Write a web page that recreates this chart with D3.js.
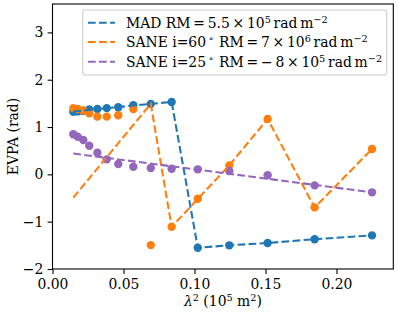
<!DOCTYPE html>
<html>
<head>
<meta charset="utf-8">
<script src="https://cdn.jsdelivr.net/npm/d3@7"></script>
<style>
  body { margin: 0; background: #fff; }
  svg { display: block; font-family: "DejaVu Serif", serif; }
</style>
</head>
<body>
<svg id="chart" width="398" height="317"></svg>
<script>
// measured points (lambda^2 in 1e5 m^2, EVPA in rad)
var lam2 = [0.01465, 0.01775, 0.0217, 0.0259, 0.0316, 0.0382, 0.0463, 0.0569, 0.0692, 0.0839, 0.1023, 0.1245, 0.1515, 0.1846, 0.225];
var madEvpa = [1.32, 1.33, 1.34, 1.37, 1.38, 1.40, 1.42, 1.46, 1.49, 1.53, -1.55, -1.50, -1.45, -1.37, -1.29];
var sane60Evpa = [1.40, 1.38, 1.35, 1.29, 1.22, 1.22, 1.25, 1.38, -1.495, -1.108, -0.516, 0.19, 1.169, -0.698, 0.535];
var sane25Evpa = [0.846, 0.795, 0.725, 0.605, 0.457, 0.317, 0.218, 0.161, 0.133, 0.118, 0.106, 0.07, -0.02, -0.233, -0.38];

// RM model lines
var fitLam2 = [0.01465, 0.0692, 0.0839, 0.1023, 0.1245, 0.1515, 0.1846, 0.225];
var madFit = [1.33, 1.49, 1.53, -1.55, -1.50, -1.45, -1.37, -1.29];
var sane60Fit = [-0.49, 1.49, -1.11, -0.52, 0.19, 1.17, -0.70, 0.535];
var sane25FitLam2 = [0.01465, 0.225];
var sane25Fit = [0.44, -0.38];

var xTicks = [0, 0.05, 0.10, 0.15, 0.20];
var yTicks = [-2, -1, 0, 1, 2, 3];

var colors = ['#1f77b4', '#ff7f0e', '#9467bd'];

function drawChart() {
    var svg = d3.select('#chart');
    var left = 52.5, right = 393.3, top = 4, bottom = 269;
    var x = d3.scaleLinear().domain([0, 0.24]).range([left, right]);
    var y = d3.scaleLinear().domain([-2, 3.6]).range([bottom, top]);

    var plot = svg.append('g');
    svg.append('clipPath').attr('id', 'clip')
        .append('rect').attr('x', left).attr('y', top)
        .attr('width', right - left).attr('height', bottom - top);
    plot.attr('clip-path', 'url(#clip)');

    // points
    var pointSets = [madEvpa, sane60Evpa, sane25Evpa];
    pointSets.forEach((vals, k) => {
        plot.append('g').selectAll('circle')
            .data(vals)
            .enter().append('circle')
            .attr('cx', (d, i) => x(lam2[i]))
            .attr('cy', d => y(d))
            .attr('r', 4.2)
            .attr('fill', colors[k]);
    });

    // dashed model lines
    var line = d3.line().x(d => x(d[0])).y(d => y(d[1]));
    var fits = [
        [fitLam2, madFit],
        [fitLam2, sane60Fit],
        [sane25FitLam2, sane25Fit]
    ];
    fits.forEach((f, k) => {
        plot.append('path')
            .datum(f[0].map((v, i) => [v, f[1][i]]))
            .attr('d', line)
            .attr('fill', 'none')
            .attr('stroke', colors[k])
            .attr('stroke-width', 2.08)
            .attr('stroke-dasharray', '7.7,3.33');
    });

    // axes
    var xAxis = svg.append('g')
        .attr('transform', 'translate(0,' + bottom + ')')
        .call(d3.axisBottom(x).tickValues(xTicks).tickFormat(d3.format('.2f'))
            .tickSize(4.9).tickSizeOuter(0).tickPadding(5));
    var yAxis = svg.append('g')
        .attr('transform', 'translate(' + left + ',0)')
        .call(d3.axisLeft(y).tickValues(yTicks).tickFormat(d => d < 0 ? '\u2212' + Math.abs(d) : d)
            .tickSize(4.9).tickSizeOuter(0).tickPadding(4.3));
    [xAxis, yAxis].forEach(a => {
        a.select('.domain').remove();
        a.selectAll('line').attr('stroke', '#000').attr('stroke-width', 1.1);
        a.selectAll('text').attr('fill', '#000')
            .style('font-family', '"DejaVu Serif"').style('font-size', '13.9px');
    });

    svg.append('rect')
        .attr('x', left).attr('y', top)
        .attr('width', right - left).attr('height', bottom - top)
        .attr('fill', 'none').attr('stroke', '#000').attr('stroke-width', 1.1);

    // axis labels
    var xl = svg.append('text')
        .attr('x', (left + right) / 2).attr('y', 306)
        .attr('text-anchor', 'middle').style('font-size', '13.9px');
    xl.append('tspan').style('font-style', 'italic').text('\u03bb');
    xl.append('tspan').attr('dy', -5).style('font-size', '9.7px').text('2');
    xl.append('tspan').attr('dy', 5).text(' (10');
    xl.append('tspan').attr('dy', -5).style('font-size', '9.7px').text('5');
    xl.append('tspan').attr('dy', 5).text(' m');
    xl.append('tspan').attr('dy', -5).style('font-size', '9.7px').text('2');
    xl.append('tspan').attr('dy', 5).text(')');

    svg.append('text')
        .attr('transform', 'translate(17.5,' + (top + bottom) / 2 + ') rotate(-90)')
        .attr('text-anchor', 'middle').style('font-size', '13.9px')
        .text('EVPA (rad)');

    // legend (thin spaces mimic mathtext spacing)
    var legend = svg.append('g');
    legend.append('rect')
        .attr('x', 82.7).attr('y', 10).attr('width', 304).attr('height', 65)
        .attr('rx', 2.8).attr('fill', '#fff').attr('fill-opacity', 0.8)
        .attr('stroke', '#cccccc').attr('stroke-width', 1.1);
    var ts = '\u2009';
    var labels = [
        ['MAD RM' + ts + '=' + ts + '5.5' + ts + '\u00d7' + ts + '10', '5', ts + 'rad' + ts + 'm', '\u22122'],
        ['SANE i=60' + ts, '\u2218', ts + ts + 'RM' + ts + '=' + ts + '7' + ts + '\u00d7' + ts + '10', '6', ts + 'rad' + ts + 'm', '\u22122'],
        ['SANE i=25' + ts, '\u2218', ts + ts + 'RM' + ts + '=' + ts + '\u2212' + ts + '8' + ts + '\u00d7' + ts + '10', '5', ts + 'rad' + ts + 'm', '\u22122']
    ];
    var rowY = [22.7, 42, 61.7];
    labels.forEach((parts, k) => {
        legend.append('line')
            .attr('x1', 88).attr('x2', 115)
            .attr('y1', rowY[k]).attr('y2', rowY[k])
            .attr('stroke', colors[k]).attr('stroke-width', 2.08)
            .attr('stroke-dasharray', '7.7,3.33');
        var t = legend.append('text')
            .attr('x', 126).attr('y', rowY[k] + 4.9)
            .style('font-size', '13.9px');
        parts.forEach((p, j) => {
            var sup = j % 2 === 1;
            t.append('tspan')
                .attr('dy', j === 0 ? 0 : (sup ? -5 : 5))
                .style('font-size', sup ? '9.7px' : '13.9px')
                .text(p);
        });
    });
}
drawChart();
</script>
</body>
</html>
